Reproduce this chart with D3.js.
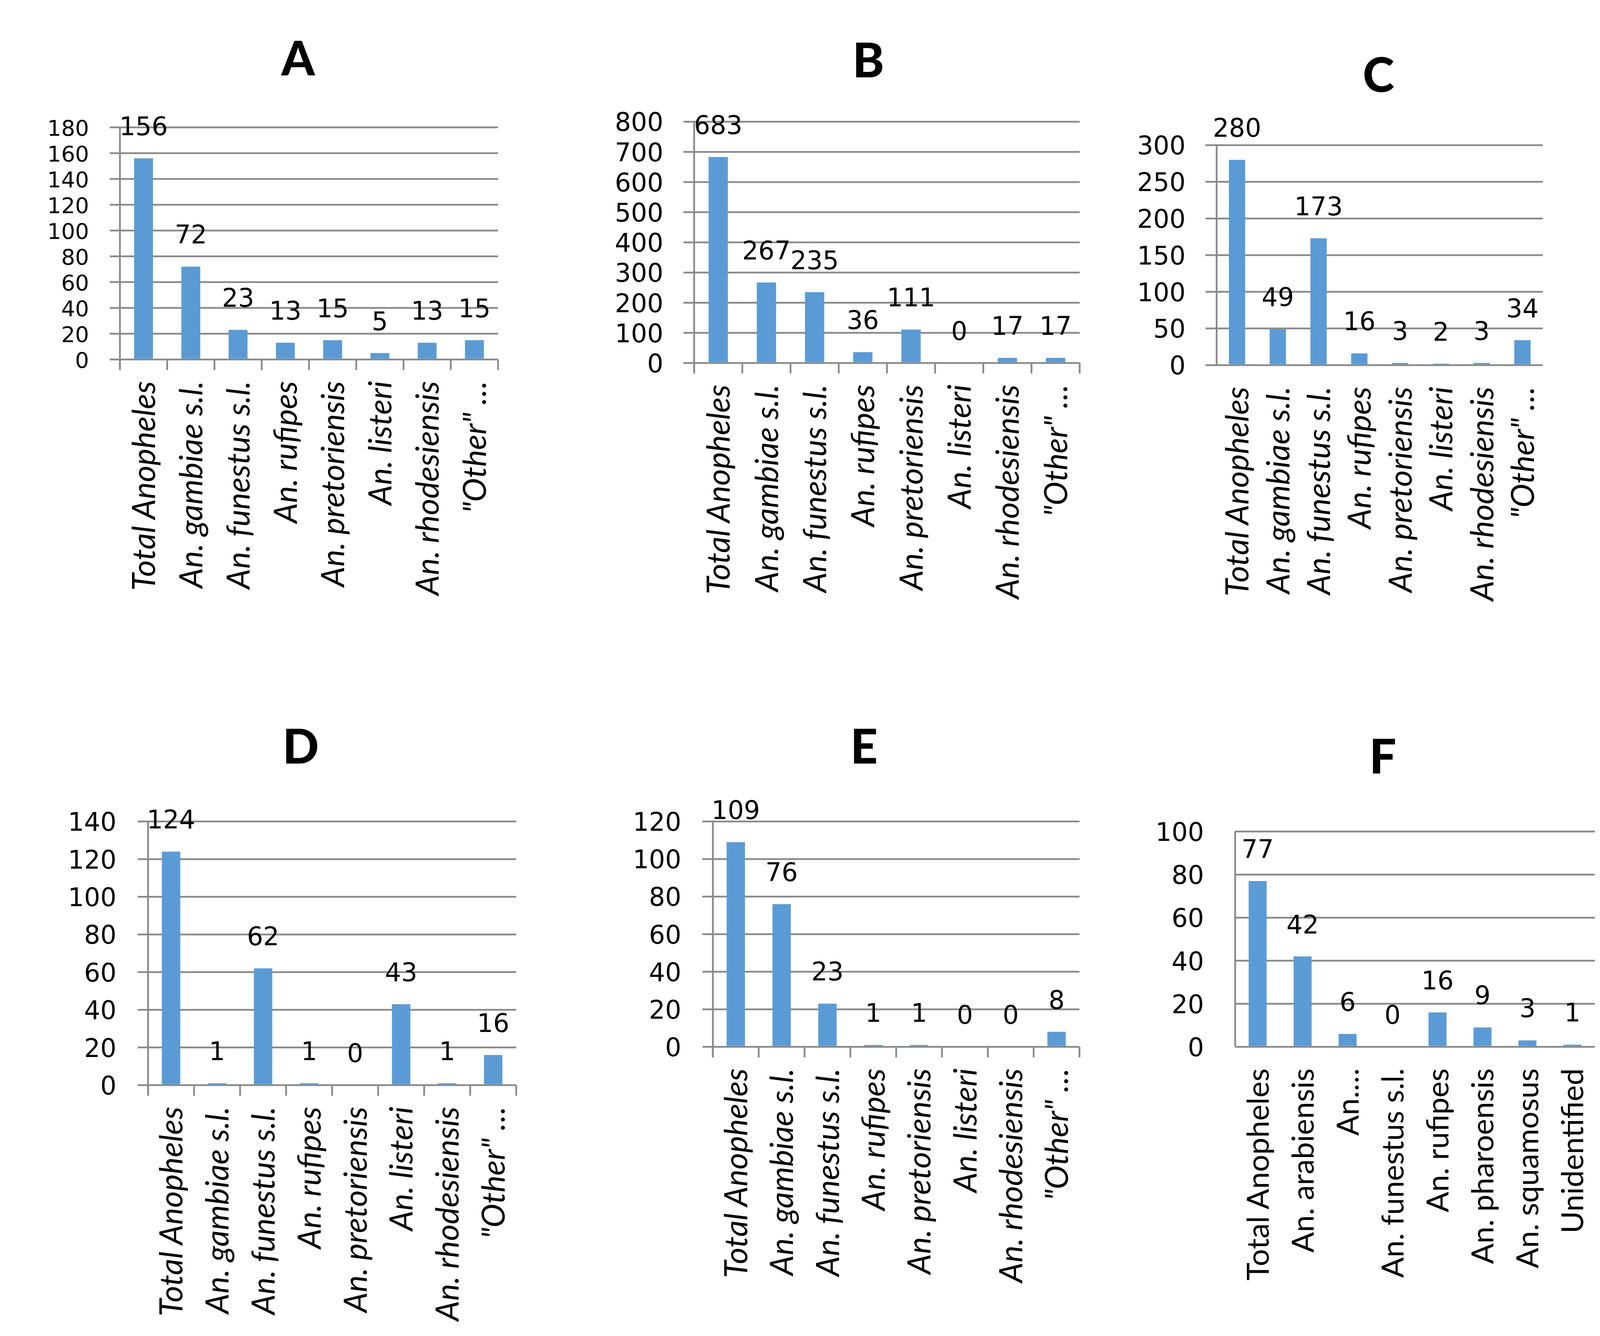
<!DOCTYPE html>
<html><head><meta charset="utf-8">
<script src="https://cdn.jsdelivr.net/npm/d3@7/dist/d3.min.js"></script>
<style>html,body{margin:0;padding:0;background:#fff;}</style>
</head><body>
<svg id="chart" width="4197" height="3419" xmlns="http://www.w3.org/2000/svg"></svg>
<script>
// ---------- data ----------
const panelTitles = ["A", "B", "C", "D", "E", "F"];
const categoriesAE = ["Total Anopheles", "An. gambiae s.l.", "An. funestus s.l.", "An. rufipes",
  "An. pretoriensis", "An. listeri", "An. rhodesiensis", "\"Other\" \u2026"];
const categoriesF = ["Total Anopheles", "An. arabiensis", "An.\u2026", "An. funestus s.l.",
  "An. rufipes", "An. pharoensis", "An. squamosus", "Unidentified"];
const valuesA = [156, 72, 23, 13, 15, 5, 13, 15];
const valuesB = [683, 267, 235, 36, 111, 0, 17, 17];
const valuesC = [280, 49, 173, 16, 3, 2, 3, 34];
const valuesD = [124, 1, 62, 1, 0, 43, 1, 16];
const valuesE = [109, 76, 23, 1, 1, 0, 0, 8];
const valuesF = [77, 42, 6, 0, 16, 9, 3, 1];
const ticksA = [0, 20, 40, 60, 80, 100, 120, 140, 160, 180];
const ticksB = [0, 100, 200, 300, 400, 500, 600, 700, 800];
const ticksC = [0, 50, 100, 150, 200, 250, 300];
const ticksD = [0, 20, 40, 60, 80, 100, 120, 140];
const ticksE = [0, 20, 40, 60, 80, 100, 120];
const ticksF = [0, 20, 40, 60, 80, 100];

// ---------- layout (pixel geometry, separate from data) ----------
const layout = [
  {left: 307,    right: 1275,   top: 326,    bottom: 920,   gridStart: 281,    labelRight: 228,  tickMarks: true,  italic: true,  titleX: 763,  titleY: 193, tickSize: 56},
  {left: 1777,   right: 2764,   top: 311.5,  bottom: 929,   gridStart: 1749.5, labelRight: 1698, tickMarks: true,  italic: true,  titleX: 2223, titleY: 198, tickSize: 65},
  {left: 3114.6, right: 3949.6, top: 371.5,  bottom: 934.4, gridStart: 3086,   labelRight: 3035, tickMarks: false, italic: true,  titleX: 3529, titleY: 235, tickSize: 65},
  {left: 379,    right: 1321.5, top: 2102.3, bottom: 2777,  gridStart: 352.5,  labelRight: 298,  tickMarks: true,  italic: true,  titleX: 770,  titleY: 1954, tickSize: 65},
  {left: 1825,   right: 2763.5, top: 2102.3, bottom: 2679,  gridStart: 1798,   labelRight: 1744, tickMarks: true,  italic: true,  titleX: 2212, titleY: 1954, tickSize: 65},
  {left: 3162,   right: 4083,   top: 2128,   bottom: 2679,  gridStart: 3162,   labelRight: 3082, tickMarks: false, italic: false, titleX: 3540, titleY: 1979, tickSize: 65}
];
const panelValues = [valuesA, valuesB, valuesC, valuesD, valuesE, valuesF];
const panelTicks = [ticksA, ticksB, ticksC, ticksD, ticksE, ticksF];
const panelCats = [categoriesAE, categoriesAE, categoriesAE, categoriesAE, categoriesAE, categoriesF];

// ---------- style ----------
const BAR = "#5B9BD5", GRID = "#898989", GRIDW = 4.5;
const NUMFONT = "'DejaVu Sans', Verdana, sans-serif", NUMSIZE = 65;
const LABFONT = "Lato, 'Open Sans', sans-serif";
const TITLEFONT = "Lato, 'Liberation Sans', sans-serif";
const TICKLEN = 27, LABELGAP = 55, VALGAP = 59;

const svg = d3.select("#chart");
svg.append("rect").attr("width", 4197).attr("height", 3419).attr("fill", "#fff");

// measure label font size so that "Total Anopheles" matches reference length
function fitSize(italic, target) {
  const t = svg.append("text").attr("font-family", LABFONT).attr("font-size", 100)
    .attr("font-style", italic ? "italic" : "normal").text("Total Anopheles");
  const len = t.node().getComputedTextLength();
  t.remove();
  return 100 * target / len;
}
const labSizeItalic = fitSize(true, 537);
const labSizeRegular = fitSize(false, 543);

layout.forEach((L, i) => {
  const vals = panelValues[i], ticks = panelTicks[i], cats = panelCats[i];
  const data = cats.map((c, k) => ({cat: c, v: vals[k]}));
  const g = svg.append("g");
  const y = d3.scaleLinear().domain([0, d3.max(ticks)]).range([L.bottom, L.top]);
  const x = d3.scaleBand().domain(cats).range([L.left, L.right]).padding(0);
  const bw = x.bandwidth();

  // title
  g.append("text").attr("x", L.titleX).attr("y", L.titleY)
    .attr("text-anchor", "middle").attr("font-family", TITLEFONT)
    .attr("font-weight", 900).attr("font-size", 122).attr("fill", "#000")
    .text(panelTitles[i]);

  // gridlines
  g.append("g").selectAll("line").data(ticks).join("line")
    .attr("x1", L.gridStart).attr("x2", L.right)
    .attr("y1", d => y(d)).attr("y2", d => y(d))
    .attr("stroke", GRID).attr("stroke-width", GRIDW);

  // y tick labels via d3 axis
  const ya = g.append("g").attr("transform", `translate(${L.labelRight},0)`)
    .call(d3.axisLeft(y).tickValues(ticks).tickSize(0).tickPadding(0).tickFormat(d3.format("d")));
  ya.select(".domain").remove();
  ya.selectAll("text").attr("font-family", NUMFONT).attr("font-size", L.tickSize)
    .attr("fill", "#000").attr("dy", "0.36em");

  // vertical axis line
  g.append("line").attr("x1", L.left).attr("x2", L.left)
    .attr("y1", y(d3.max(ticks))).attr("y2", L.bottom + (L.tickMarks ? TICKLEN : 0))
    .attr("stroke", GRID).attr("stroke-width", GRIDW);

  // x tick marks at band boundaries
  if (L.tickMarks) {
    const bounds = cats.map(c => x(c)).concat([x(cats[cats.length - 1]) + bw]);
    g.append("g").selectAll("line").data(bounds).join("line")
      .attr("x1", d => d).attr("x2", d => d)
      .attr("y1", L.bottom).attr("y2", L.bottom + TICKLEN)
      .attr("stroke", GRID).attr("stroke-width", GRIDW);
  }

  // bars
  g.append("g").selectAll("rect").data(data).join("rect")
    .attr("x", d => x(d.cat) + bw * 0.3).attr("width", bw * 0.4)
    .attr("y", d => y(d.v)).attr("height", d => Math.max(0, L.bottom - y(d.v) - GRIDW / 2))
    .attr("fill", BAR);

  // value labels
  g.append("g").selectAll("text").data(data).join("text")
    .attr("x", d => x(d.cat) + bw / 2).attr("y", d => y(d.v) - VALGAP)
    .attr("text-anchor", "middle").attr("font-family", NUMFONT)
    .attr("font-size", NUMSIZE).attr("fill", "#000")
    .text(d => d.v);

  // category labels (rotated)
  const ly = L.bottom + LABELGAP;
  g.append("g").selectAll("text").data(data).join("text")
    .attr("transform", d => `translate(${x(d.cat) + bw / 2},${ly}) rotate(-90)`)
    .attr("text-anchor", "end").attr("dy", "0.36em")
    .attr("font-family", LABFONT)
    .attr("font-style", L.italic ? "italic" : "normal")
    .attr("font-size", L.italic ? labSizeItalic : labSizeRegular)
    .attr("fill", "#000")
    .text(d => d.cat);
});
</script>
</body></html>
